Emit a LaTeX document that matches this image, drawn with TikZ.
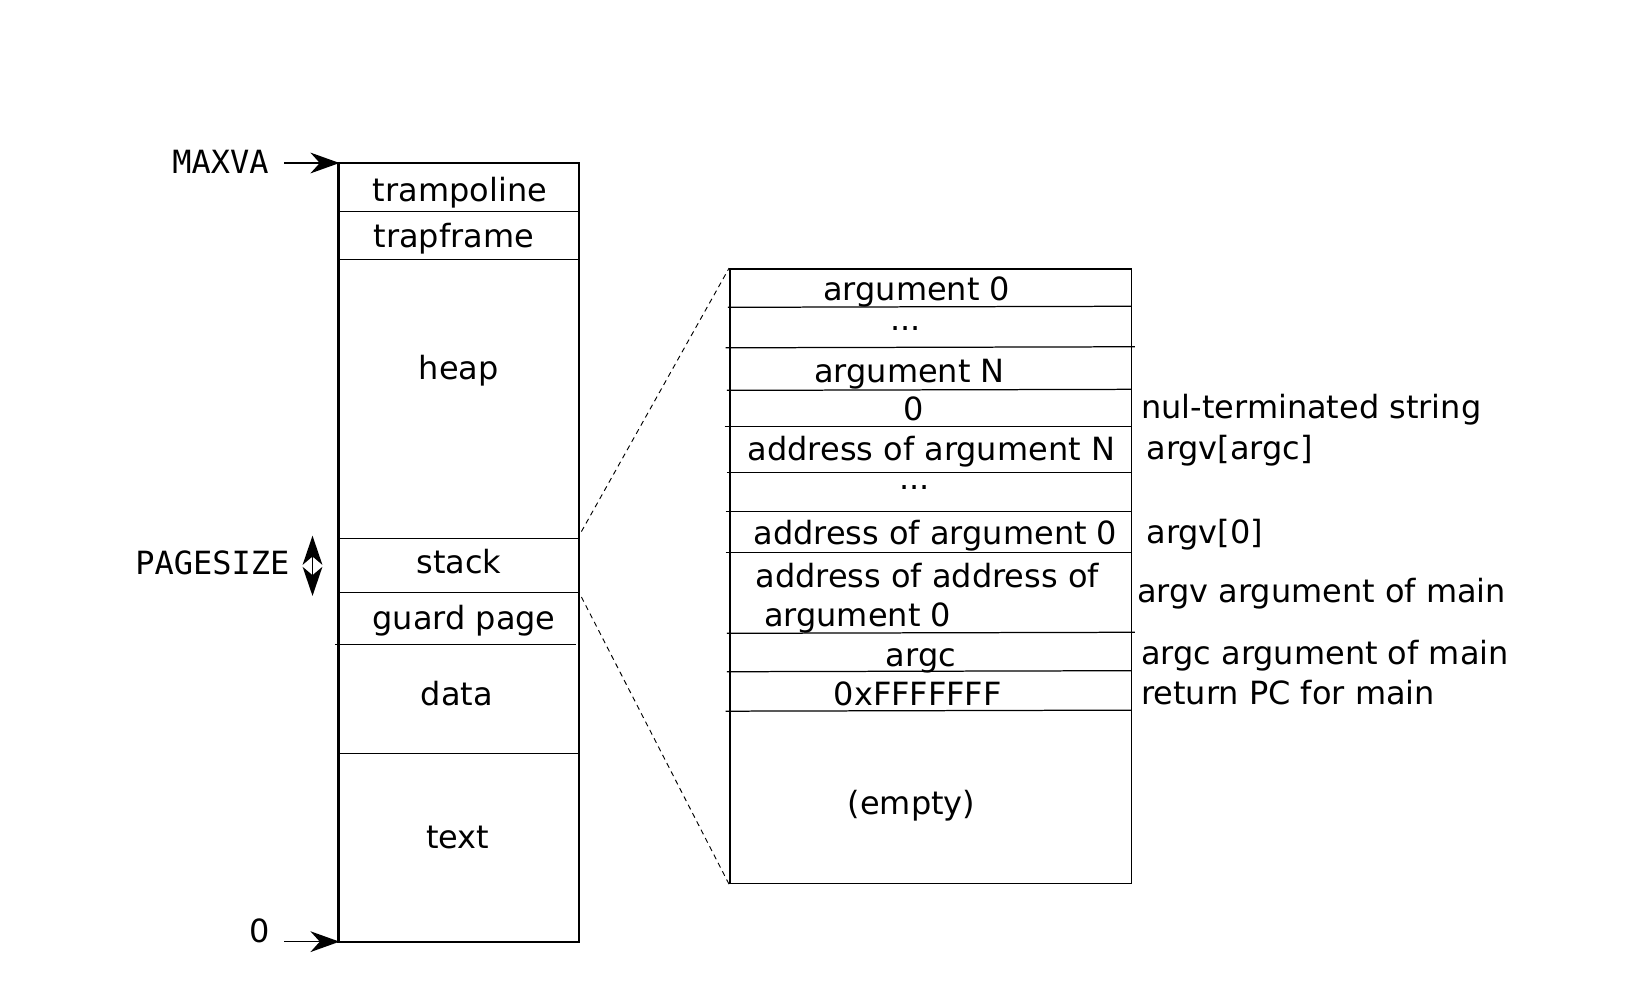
\documentclass[tikz,border=0pt]{standalone}
\usepackage{fontspec}
\setmainfont{DejaVu Sans}
\setmonofont{DejaVu Sans Mono}
\usetikzlibrary{arrows.meta}
\begin{document}
\begin{tikzpicture}[x=1pt,y=-1pt,
  lbl/.style={inner sep=0pt, text height=0.73em, text depth=0pt, font=\fontsize{30.8}{36}\selectfont},
  monolbl/.style={lbl, font=\fontsize{30.8}{36}\selectfont\ttfamily},
  outerbox/.style={draw, line width=2.2pt},
  rightbox/.style={draw, line width=1.5pt},
  divider/.style={line width=1.2pt},
  ptr/.style={line width=1.5pt, -{Stealth[length=28pt, width=20pt, inset=9pt]}},
  dbl/.style={line width=1.5pt, {Stealth[length=28pt, width=19pt, inset=8pt]}-{Stealth[length=28pt, width=19pt, inset=8pt]}},
  zoomline/.style={dashed, line width=0.9pt, dash pattern=on 5pt off 4pt}]
\useasboundingbox (0,0) rectangle (1570,957.6);

% ---------- left address space ----------
\node[outerbox, minimum width=232pt, minimum height=750pt, inner sep=0pt] (as) at (442,532) {};
\draw[divider] (326,204) -- (558,204);
\draw[divider] (326,250) -- (558,250);
\draw[divider] (326,519) -- (558,519);
\draw[divider] (326,571) -- (558,571);
\draw[divider] (323,621) -- (555,621);
\draw[divider] (326,726) -- (558,726);

\node[lbl] (tramp) at (443,190) {trampoline};
\node[lbl] (trapf) at (437,235) {trapframe};
\node[lbl] (heap) at (442,362) {heap};
\node[lbl] (stack) at (442,549) {stack};
\node[lbl] (guard) at (447,603) {guard page};
\node[lbl] (data) at (440,676) {data};
\node[lbl] (text) at (441,814) {text};

% ---------- left labels ----------
\node[monolbl, anchor=east] (maxva) at (259,163) {MAXVA};
\coordinate (maxvatail) at (274,157);
\coordinate (maxvahead) at (327,157);
\draw[ptr] (maxvatail) -- (maxvahead);

\node[lbl, anchor=east] (zero) at (260,904) {0};
\coordinate (zerotail) at (274,907);
\coordinate (zerohead) at (327,907);
\draw[ptr] (zerotail) -- (zerohead);

\node[monolbl, anchor=east] (pagesize) at (279,550) {PAGESIZE};
\coordinate (pstop) at (301,516);
\coordinate (psbot) at (301,574);
\draw[dbl] (pstop) -- (psbot);

% ---------- right stack detail ----------
\node[rightbox, minimum width=387pt, minimum height=592pt, inner sep=0pt] (st) at (896.5,555) {};
\draw[divider] (701,296) -- (1090,295);
\draw[divider] (699,335) -- (1093,334);
\draw[divider] (700,376) -- (1090,375);
\draw[divider] (698,411) -- (1090,411);
\draw[divider] (700,455) -- (1090,455);
\draw[divider] (699,493) -- (1090,493);
\draw[divider] (699,532) -- (1090,532);
\draw[divider] (700,610) -- (1093,609);
\draw[divider] (700,647) -- (1090,646);
\draw[divider] (699,685) -- (1090,684);

\node[lbl] (a0) at (883,286) {argument 0};
\node[lbl] (d1) at (872,315) {...};
\node[lbl] (aN) at (876,365) {argument N};
\node[lbl] (nul) at (880,401) {0};
\node[lbl] (adN) at (897,440) {address of argument N};
\node[lbl] (d2) at (881,468) {...};
\node[lbl] (ad0) at (901,521) {address of argument 0};
\node[lbl] (aad1) at (893,562) {address of address of};
\node[lbl] (aad2) at (826,600) {argument 0};
\node[lbl] (argc) at (887,638) {argc};
\node[lbl] (ret) at (884,676) {0xFFFFFFF};
\node[lbl] (empty) at (878,781) {(empty)};

% ---------- right annotations ----------
\node[lbl, anchor=west] (n1) at (1099,399) {nul-terminated string};
\node[lbl, anchor=west] (n2) at (1104,439) {argv[argc]};
\node[lbl, anchor=west] (n3) at (1104,520) {argv[0]};
\node[lbl, anchor=west] (n4) at (1095,577) {argv argument of main};
\node[lbl, anchor=west] (n5) at (1099,636) {argc argument of main};
\node[lbl, anchor=west] (n6) at (1099,675) {return PC for main};

% ---------- zoom lines ----------
\coordinate (zs1) at (560,512);
\coordinate (zs2) at (560,575);
\draw[zoomline] (zs1) -- (st.north west);
\draw[zoomline] (zs2) -- (st.south west);
\end{tikzpicture}
\end{document}
